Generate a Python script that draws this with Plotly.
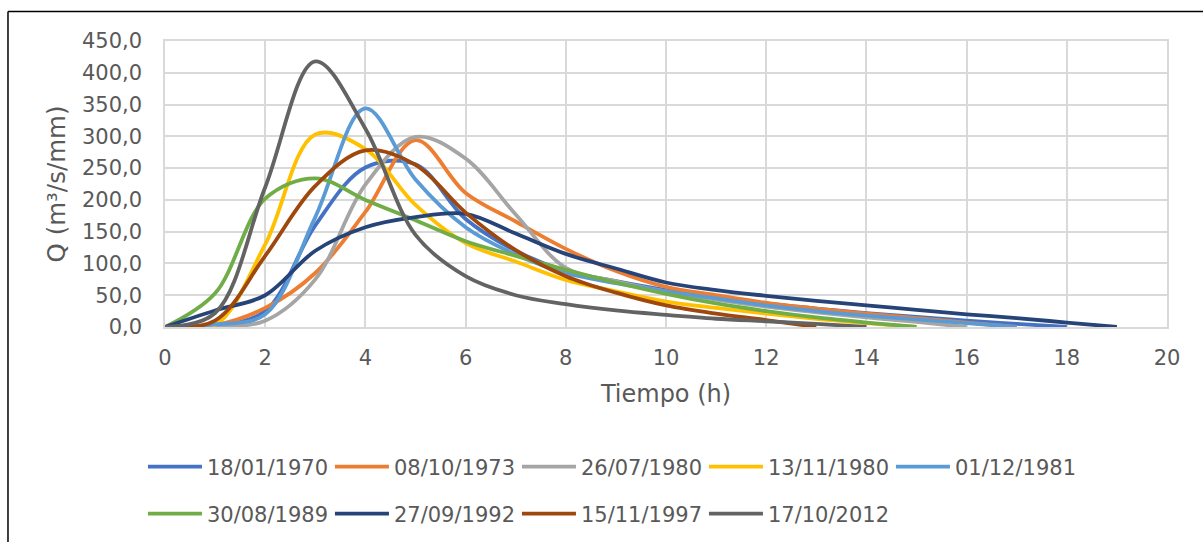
import plotly.graph_objects as go

# Hidrogramas unitarios: caudal por mm de lluvia efectiva, a intervalos de 1 h
series_names = ["18/01/1970", "08/10/1973", "26/07/1980", "13/11/1980", "01/12/1981",
                "30/08/1989", "27/09/1992", "15/11/1997", "17/10/2012"]

q_1970 = [0, 3, 25, 160, 251, 256, 170, 120, 88, 72, 58, 47, 37, 29, 22, 16, 10, 5, 0]
q_1973 = [0, 3, 30, 85, 181, 294, 211, 166, 123, 88, 63, 50, 38, 29, 21, 14, 7, 0]
q_1980a = [0, 1, 10, 75, 224, 299, 265, 177, 93, 72, 56, 43, 32, 23, 15, 8, 0]
q_1980b = [0, 3, 130, 303, 280, 192, 132, 103, 74, 56, 40, 30, 21, 13, 6, 0]
q_1981 = [0, 4, 20, 173, 344, 232, 157, 114, 85, 69, 56, 45, 34, 25, 18, 12, 6, 0]
q_1989 = [0, 53, 202, 234, 200, 168, 135, 112, 90, 70, 52, 37, 25, 15, 7, 0]
q_1992 = [0, 26, 50, 120, 157, 173, 178, 147, 115, 92, 70, 58, 49, 41, 34, 27, 20, 14, 7, 0]
q_1997 = [0, 10, 112, 222, 278, 255, 180, 121, 80, 54, 34, 21, 11, 0]
q_2012 = [0, 22, 220, 418, 312, 145, 80, 50, 36, 26, 19, 13, 9, 5, 0]

all_q = [q_1970, q_1973, q_1980a, q_1980b, q_1981, q_1989, q_1992, q_1997, q_2012]
colors = ["#4472C4", "#ED7D31", "#A5A5A5", "#FFC000", "#5B9BD5",
          "#70AD47", "#264478", "#9E480E", "#636363"]

x_ticks = list(range(0, 21, 2))
y_ticks = list(range(0, 451, 50))

FONT = "DejaVu Sans"
TXT = "#595959"
GRID = "#d9d9d9"

fig = go.Figure()
for i, (name, q, c) in enumerate(zip(series_names, all_q, colors)):
    fig.add_trace(go.Scatter(
        x=list(range(len(q))), y=q, name=name, mode="lines",
        line=dict(color=c, width=3.8, shape="spline", smoothing=1.0),
        legend="legend" if i < 5 else "legend2",
    ))

legend_common = dict(
    orientation="h", xanchor="left", yanchor="middle",
    font=dict(family=FONT, size=21, color=TXT),
    itemwidth=54, entrywidth=118, bgcolor="rgba(0,0,0,0)",
    traceorder="normal",
)

fig.update_layout(
    width=1203, height=542,
    margin=dict(l=165, r=36, t=41, b=215, autoexpand=False),
    paper_bgcolor="white", plot_bgcolor="white",
    separators=",.",
    font=dict(family=FONT, color=TXT),
    showlegend=True,
    legend=dict(x=-0.022, y=-0.4895, **legend_common),
    legend2=dict(x=-0.022, y=-0.654, **legend_common),
    xaxis=dict(
        range=[0, 20], tickvals=x_ticks, showgrid=True, gridcolor=GRID, gridwidth=1.5,
        showline=True, linecolor=GRID, linewidth=1.5, mirror=True, zeroline=False,
        tickfont=dict(family=FONT, size=21, color=TXT), ticklabelstandoff=11,
        title=dict(text="Tiempo (h)", font=dict(family=FONT, size=24, color=TXT), standoff=16),
    ),
    yaxis=dict(
        range=[0, 450], tickvals=y_ticks, tickformat=".1f", showgrid=True, gridcolor=GRID,
        gridwidth=1.5, showline=True, linecolor=GRID, linewidth=1.5, mirror=True, zeroline=False,
        tickfont=dict(family=FONT, size=21, color=TXT), ticklabelstandoff=17,
        title=dict(text="Q (m³/s/mm)", font=dict(family=FONT, size=24.5, color=TXT), standoff=9),
    ),
)

# Marco del gráfico (bordes superior e izquierdo)
fig.add_shape(type="line", xref="paper", yref="paper", x0=-0.1567, x1=1.2,
              y0=1.1033, y1=1.1033, line=dict(color="black", width=1.5))
fig.add_shape(type="line", xref="paper", yref="paper", x0=-0.1567, x1=-0.1567,
              y0=1.1033, y1=-1.0, line=dict(color="black", width=1.5))

fig.write_html("out.html")
